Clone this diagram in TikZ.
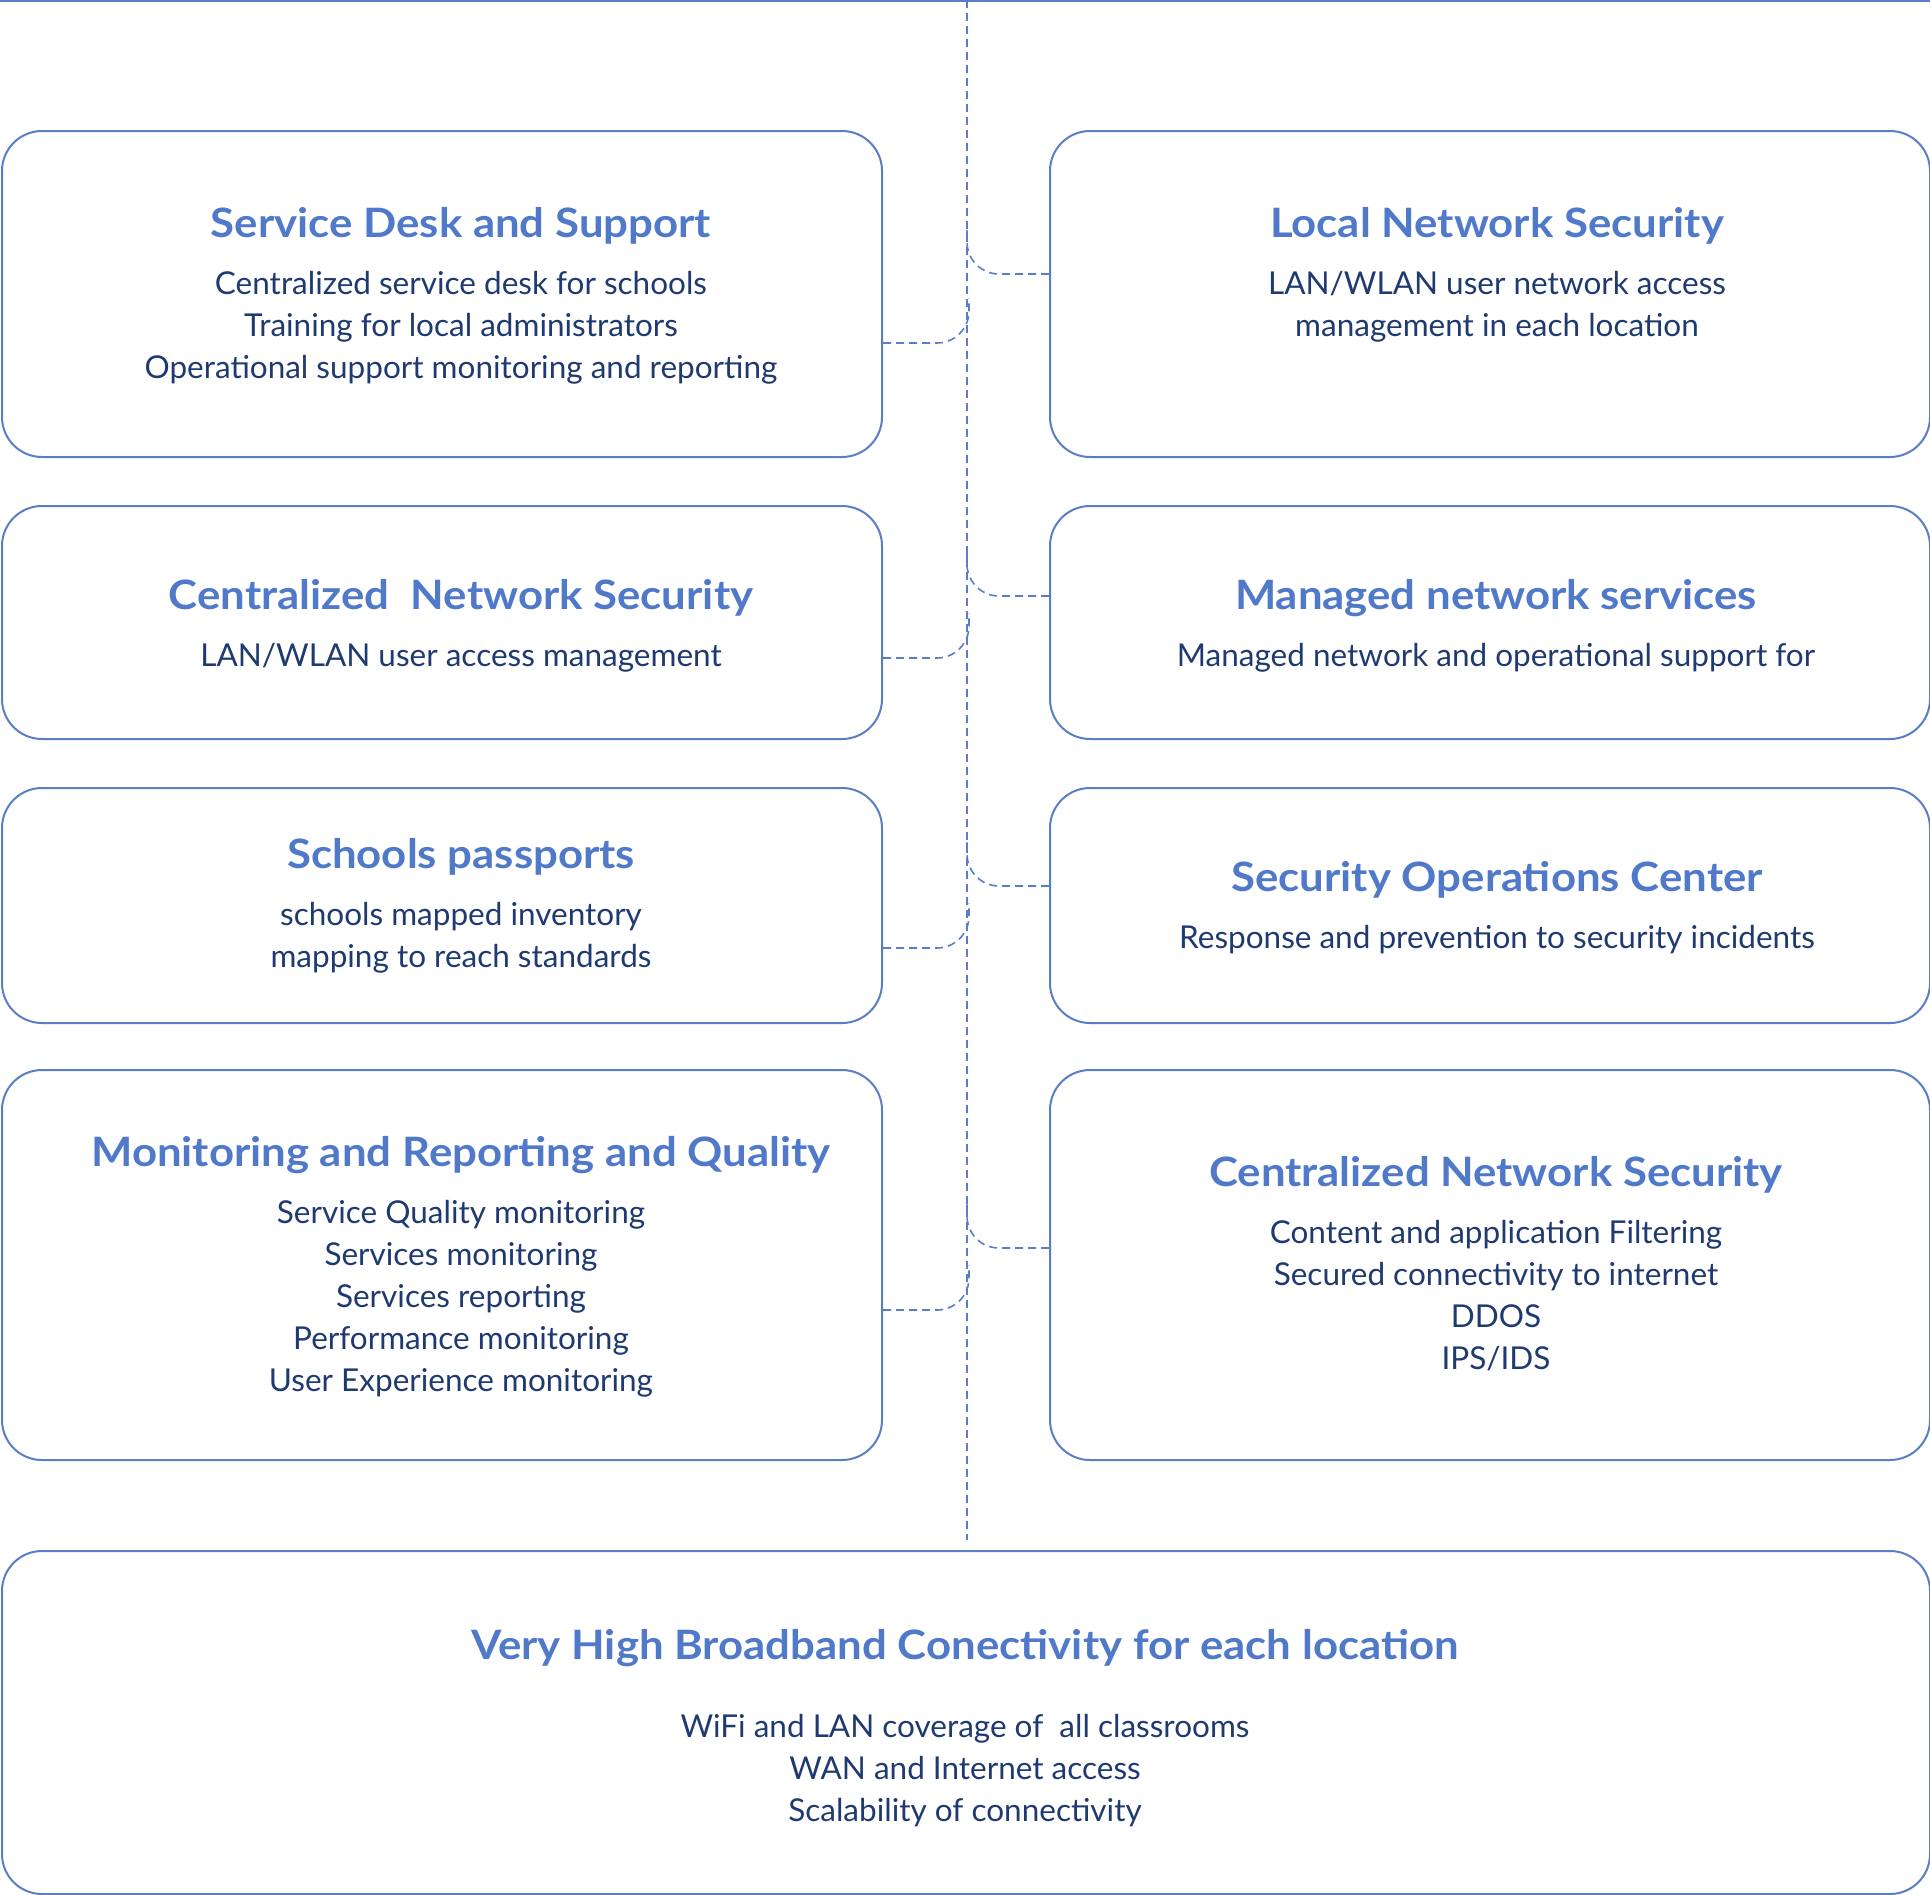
\documentclass[tikz,border=0pt]{standalone}
\usepackage{fontspec}
\setmainfont{Lato}
\newfontfamily\headfont{Lato}[FakeStretch=1.08]
\usetikzlibrary{positioning}
\definecolor{edgeblue}{HTML}{5A7EC5}
\definecolor{headblue}{HTML}{5079C9}
\definecolor{bodynavy}{HTML}{1F3A70}

\begin{document}
\begin{tikzpicture}[x=1pt,y=-1pt]
				\tikzset{card/.style={draw=edgeblue,line width=2pt,rounded corners=40pt,anchor=north west,inner sep=0pt,minimum width=880pt},
					head/.style={font=\fontsize{40.5}{46}\headfont\bfseries,text=headblue,inner sep=0pt},
					body/.style={font=\fontsize{31.5}{42}\selectfont,text=bodynavy,align=center,inner sep=0pt,below=26pt of #1},
					link/.style={draw=edgeblue,line width=1.6pt,dash pattern=on 8pt off 5pt,rounded corners=32pt}}
				\useasboundingbox (0,0) rectangle (1930,1895);
				% top rule and spine
				\coordinate (ruleL) at (0,1);
				\coordinate (ruleR) at (1930,1);
				\coordinate (spineT) at (967,0);
				\coordinate (spineB) at (967,1540);
				\draw[edgeblue,line width=2pt] (ruleL) -- (ruleR);
				\draw[link] (spineT) -- (spineB);
				% left column
				\node [card, minimum height=326pt] (sdesk) at (1,130) {};
				\node [head] (sdeskT) at (461,226) {Service Desk and Support};
				\node [body=sdeskT] (sdeskB) {Centralized service desk for schools\\Training for local administrators\\Operational support monitoring and reporting};
				\node [card, minimum height=233pt] (cnsec) at (1,505) {};
				\node [head] (cnsecT) at (461,598) {Centralized\ \ Network Security};
				\node [body=cnsecT] (cnsecB) {LAN/WLAN user access management};
				\node [card, minimum height=235pt] (spass) at (1,787) {};
				\node [head] (spassT) at (461,857) {Schools passports};
				\node [body=spassT] (spassB) {schools mapped inventory\\mapping to reach standards};
				\node [card, minimum height=390pt] (mrq) at (1,1069) {};
				\node [head] (mrqT) at (461,1155) {Monitoring and Reporting and Quality};
				\node [body=mrqT] (mrqB) {Service Quality monitoring\\Services monitoring\\Services reporting\\Performance monitoring\\User Experience monitoring};
				% right column
				\node [card, minimum height=326pt] (lnsec) at (1049,130) {};
				\node [head] (lnsecT) at (1497,226) {Local Network Security};
				\node [body=lnsecT] (lnsecB) {LAN/WLAN user network access\\management in each location};
				\node [card, minimum height=233pt] (mnet) at (1049,505) {};
				\node [head] (mnetT) at (1496,598) {Managed network services};
				\node [body=mnetT] (mnetB) {Managed network and operational support for};
				\node [card, minimum height=235pt] (soc) at (1049,787) {};
				\node [head] (socT) at (1497,880) {Security Operations Center};
				\node [body=socT] (socB) {Response and prevention to security incidents};
				\node [card, minimum height=390pt] (cnsec2) at (1049,1069) {};
				\node [head] (cnsec2T) at (1496,1175) {Centralized Network Security};
				\node [body=cnsec2T] (cnsec2B) {Content and application Filtering\\Secured connectivity to internet\\DDOS\\IPS/IDS};
				% bottom
				\node [card, minimum width=1928pt, minimum height=343pt] (vhb) at (1,1550) {};
				\node [head] (vhbT) at (965,1648) {Very High Broadband Conectivity for each location};
				\node [body=vhbT, below=47pt of vhbT] (vhbB) {WiFi and LAN coverage of\ \ all classrooms\\WAN and Internet access\\Scalability of connectivity};
				% links to the spine
				\draw[link] ([yshift=-213pt]sdesk.north east) -| ++(86,-45);
				\draw[link] ([yshift=-153pt]cnsec.north east) -| ++(86,-45);
				\draw[link] ([yshift=-161pt]spass.north east) -| ++(86,-45);
				\draw[link] ([yshift=-241pt]mrq.north east) -| ++(86,-45);
				\draw[link] ([yshift=-144pt]lnsec.north west) -| ++(-82,-45);
				\draw[link] ([yshift=-91pt]mnet.north west) -| ++(-82,-45);
				\draw[link] ([yshift=-99pt]soc.north west) -| ++(-82,-45);
				\draw[link] ([yshift=-179pt]cnsec2.north west) -| ++(-82,-45);
			\end{tikzpicture}
\end{document}
